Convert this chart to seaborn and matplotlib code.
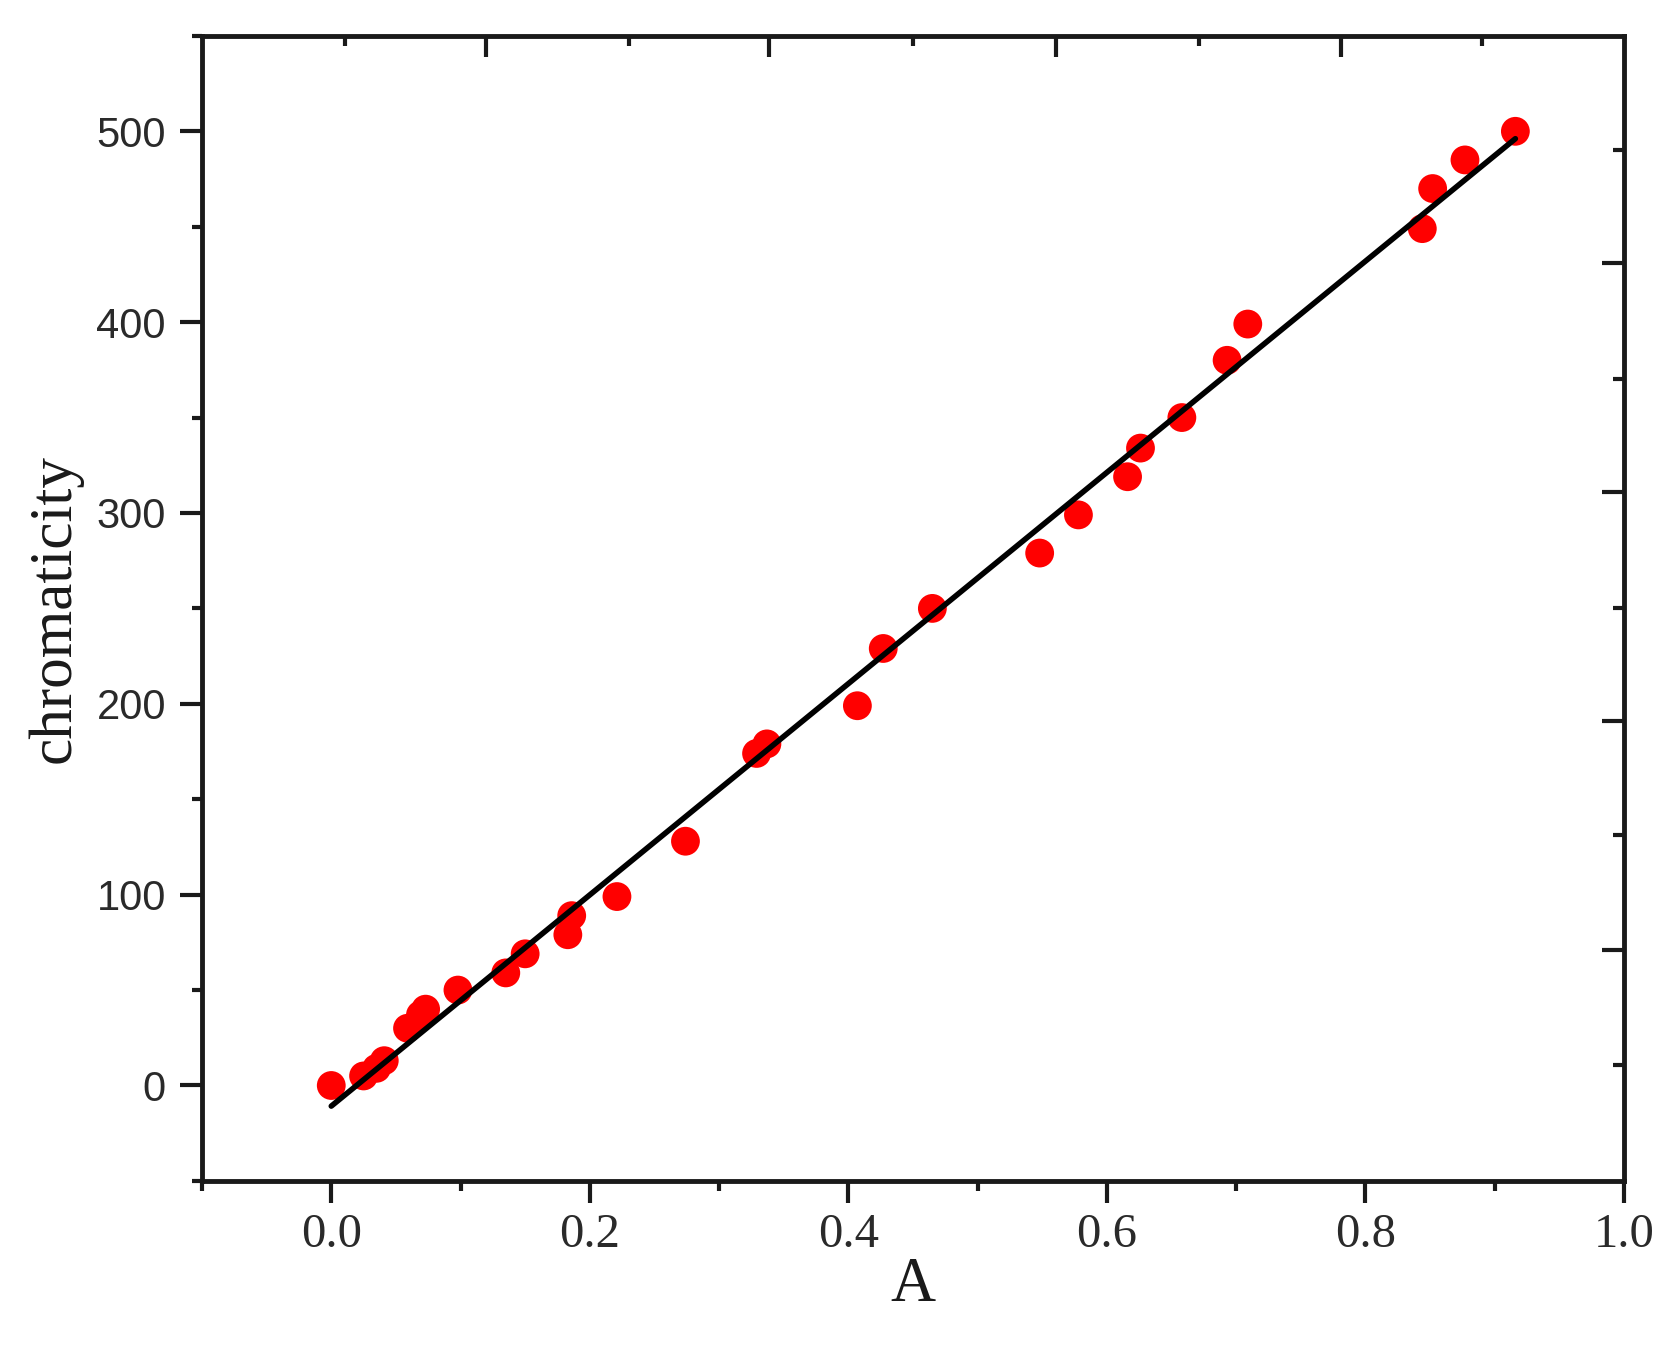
import numpy as np
import pandas as pd
import matplotlib
matplotlib.use("Agg")
import matplotlib.pyplot as plt
import seaborn as sns
from matplotlib.ticker import MultipleLocator, FormatStrFormatter

# values
absorbance = [0.000, 0.025, 0.035, 0.041, 0.059, 0.069, 0.073, 0.098, 0.135, 0.150,
              0.183, 0.186, 0.221, 0.274, 0.329, 0.337, 0.407, 0.427, 0.465, 0.548,
              0.578, 0.616, 0.626, 0.658, 0.693, 0.709, 0.844, 0.852, 0.877, 0.916]
chromaticity = [0, 5, 9, 13, 30, 37, 40, 50, 59, 69,
                79, 89, 99, 128, 174, 179, 199, 229, 250, 279,
                299, 319, 334, 350, 380, 399, 449, 470, 485, 500]

# the top / right axes carry their own (unlabelled) ticks
top_major = [0.1195, 0.339, 0.561, 0.781]
top_minor = [0.011, 0.2305, 0.450, 0.671, 0.890]
right_major = [431, 311, 191, 71]
right_minor = [490, 370, 250, 131, 11]

df = pd.DataFrame({"A": absorbance, "chromaticity": chromaticity})

sns.set_style("ticks")
fig = plt.figure(figsize=(16.68, 13.49), dpi=100)
ax = fig.add_axes([0.1211, 0.1246, 0.8525, 0.8488])

sns.regplot(data=df, x="A", y="chromaticity", ax=ax, ci=None, truncate=True,
            scatter_kws=dict(s=430, color="#ff0000", edgecolors="none", alpha=1),
            line_kws=dict(color="black", lw=4))

ax.set_xlim(-0.1, 1.0)
ax.set_ylim(-50, 550)
ax.xaxis.set_major_locator(MultipleLocator(0.2))
ax.xaxis.set_minor_locator(MultipleLocator(0.1))
ax.xaxis.set_major_formatter(FormatStrFormatter("%.1f"))
ax.yaxis.set_major_locator(MultipleLocator(100))
ax.yaxis.set_minor_locator(MultipleLocator(50))
ax.yaxis.set_major_formatter(FormatStrFormatter("%d"))

ax.tick_params(which="major", direction="out", length=16, width=3, color="#1a1a1a")
ax.tick_params(which="minor", direction="out", length=7.5, width=3, color="#1a1a1a")
ax.tick_params(axis="x", which="major", pad=7)
ax.tick_params(axis="y", which="major", pad=10)
for lab in ax.get_xticklabels():
    lab.set_fontfamily("Liberation Serif")
    lab.set_fontsize(35)
    lab.set_color("#2a2a2a")
for lab in ax.get_yticklabels():
    lab.set_fontfamily("Liberation Sans")
    lab.set_fontsize(30)
    lab.set_color("#2a2a2a")

ax.set_xlabel("A", fontfamily="Liberation Serif", fontsize=45, labelpad=0, color="#1a1a1a")
ax.set_ylabel("chromaticity", fontfamily="Liberation Serif", fontsize=44, labelpad=10,
              color="#1a1a1a")

for sp in ax.spines.values():
    sp.set_linewidth(3.5)
    sp.set_color("#1a1a1a")
    sp.set_visible(True)

# top ticks
axt = ax.twiny()
axt.set_xlim(ax.get_xlim())
axt.set_xticks(top_major)
axt.set_xticks(top_minor, minor=True)
axt.tick_params(which="major", direction="in", length=15, width=3, labeltop=False, color="#1a1a1a")
axt.tick_params(which="minor", direction="in", length=7.5, width=3, labeltop=False, color="#1a1a1a")
for sp in axt.spines.values():
    sp.set_visible(False)

# right ticks
axr = ax.twinx()
axr.set_ylim(ax.get_ylim())
axr.set_yticks(right_major)
axr.set_yticks(right_minor, minor=True)
axr.tick_params(which="major", direction="in", length=15.5, width=3, labelright=False, color="#1a1a1a")
axr.tick_params(which="minor", direction="in", length=8, width=3, labelright=False, color="#1a1a1a")
for sp in axr.spines.values():
    sp.set_visible(False)

fig.savefig("out.png", dpi=100, facecolor="white")
